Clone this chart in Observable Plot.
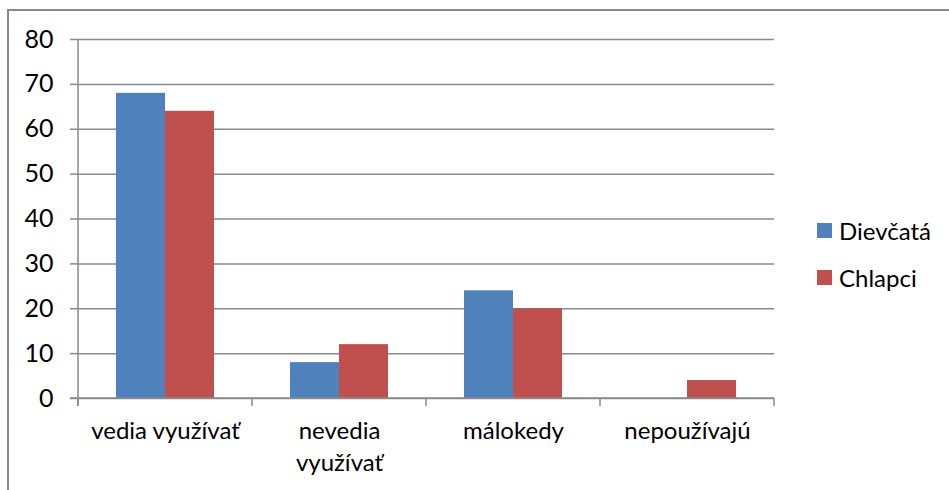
<!DOCTYPE html>
<html><head><meta charset="utf-8">
<script src="https://cdn.jsdelivr.net/npm/d3@7"></script>
<script src="https://cdn.jsdelivr.net/npm/@observablehq/plot@0.6"></script>
<style>
body{margin:0;background:#fff;overflow:hidden}
#wrap{position:relative;width:949px;height:490px;overflow:hidden;font-family:Lato,sans-serif;background:#fff}
#border{position:absolute;left:7px;top:9px;width:1000px;height:600px;border:2px solid #8a8a8a;box-sizing:border-box}
#chart{position:absolute;left:0;top:0}
#legend{position:absolute;left:817px;top:216px;font-size:24px;color:#000}
.item{display:flex;align-items:center;height:28px;margin-bottom:19px}
.sw{width:15px;height:15px;margin-right:7px}
</style></head>
<body>
<div id="wrap"><div id="border"></div><div id="chart"></div><div id="legend"></div></div>
<script>
const categories = ["vedia využívať", "nevedia využívať", "málokedy", "nepoužívajú"];
const tickLabels = ["vedia využívať", "nevedia\nvyužívať", "málokedy", "nepoužívajú"];
const series = ["Dievčatá", "Chlapci"];
const dievcata = [68, 8, 24, 0];
const chlapci = [64, 12, 20, 4];
const colors = ["#4F81BD", "#C0504D"];
const yTicks = [0, 10, 20, 30, 40, 50, 60, 70, 80];

const values = [dievcata, chlapci];
const rows = [];
categories.forEach((c, i) => series.forEach((s, j) => rows.push({category: c, series: s, value: values[j][i]})));

const chart = Plot.plot({
  width: 949, height: 490,
  marginLeft: 77, marginRight: 174, marginTop: 39, marginBottom: 92,
  style: {fontFamily: "Lato, sans-serif", fontSize: "24px", color: "#000", background: "transparent", overflow: "visible"},
  fx: {domain: categories, padding: 0, axis: null, label: null},
  x: {domain: series, paddingInner: 0, paddingOuter: 0.7626, axis: null, label: null},
  y: {domain: [0, 80], axis: null, label: null},
  color: {domain: series, range: colors},
  marks: [
    Plot.gridY(yTicks, {stroke: "#8a8a8a", strokeOpacity: 1, strokeWidth: 1.5}),
    Plot.barY(rows, {fx: "category", x: "series", y: "value", fill: "series"}),
    Plot.axisY(yTicks, {tickSize: 8, tickPadding: 17, stroke: "#8a8a8a", strokeWidth: 1.5, label: null, fontSize: 25, fill: "#000"}),
    Plot.axisFx({anchor: "bottom", tickSize: 0, tickPadding: 18, tickFormat: d => tickLabels[categories.indexOf(d)], lineHeight: 1.33, label: null, fontSize: 24, fill: "#000"})
  ]
});
document.getElementById("chart").appendChild(chart);

// axis lines and category boundary ticks derived from the scales
const fx = chart.scale("fx"), y = chart.scale("y");
const svg = d3.select(chart);
const y0 = y.apply(0), yTop = y.apply(80);
const bounds = categories.map(c => fx.apply(c));
bounds.push(fx.apply(categories[categories.length - 1]) + fx.bandwidth);
const g = svg.append("g").attr("stroke", "#8a8a8a").attr("stroke-width", 1.5);
g.append("line").attr("x1", bounds[0]).attr("x2", bounds[0]).attr("y1", yTop).attr("y2", y0 + 8);
g.append("line").attr("x1", bounds[0] - 8).attr("x2", bounds[bounds.length - 1]).attr("y1", y0).attr("y2", y0);
bounds.forEach(b => g.append("line").attr("x1", b).attr("x2", b).attr("y1", y0).attr("y2", y0 + 8));

// legend
const leg = d3.select("#legend");
series.forEach((s, i) => {
  const it = leg.append("div").attr("class", "item");
  it.append("div").attr("class", "sw").style("background", colors[i]);
  it.append("span").text(s);
});
</script>
</body></html>
